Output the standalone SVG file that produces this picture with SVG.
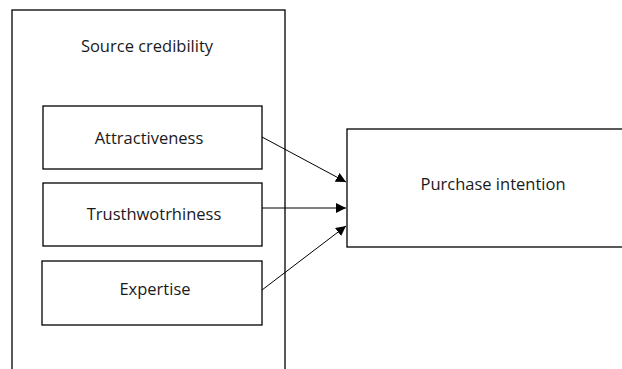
<svg xmlns="http://www.w3.org/2000/svg" width="622" height="369" viewBox="0 0 622 369">
  <style>
    .box { fill: #ffffff; stroke: #000000; stroke-width: 1.3; }
    .label { font-family: "Open Sans", "Noto Sans", sans-serif; font-size: 16.5px; fill: #1a1a1a; text-anchor: middle; }
    .link { stroke: #000000; stroke-width: 1; fill: none; marker-end: url(#head); }
  </style>
  <defs>
    <marker id="head" viewBox="0 0 10 10" refX="10" refY="5" markerWidth="10" markerHeight="10" markerUnits="userSpaceOnUse" orient="auto">
      <path d="M0,0 L10,5 L0,10 Z" fill="#000000"/>
    </marker>
  </defs>
  <rect width="622" height="369" fill="#ffffff"/>

  <g id="source-credibility">
    <rect class="box" x="12" y="10" width="273" height="380"/>
    <text class="label" x="147" y="52">Source credibility</text>
  </g>

  <g id="attractiveness">
    <rect class="box" x="43" y="106" width="219" height="63"/>
    <text class="label" x="149" y="144">Attractiveness</text>
  </g>

  <g id="trustworthiness">
    <rect class="box" x="43" y="183" width="219" height="63"/>
    <text class="label" x="154" y="220">Trusthwotrhiness</text>
  </g>

  <g id="expertise">
    <rect class="box" x="42" y="261" width="220" height="64"/>
    <text class="label" x="155" y="295">Expertise</text>
  </g>

  <g id="purchase-intention">
    <rect class="box" x="347" y="129" width="290" height="118"/>
    <text class="label" x="493" y="190">Purchase intention</text>
  </g>

  <g id="connectors">
    <line class="link" x1="262" y1="137" x2="346" y2="182"/>
    <line class="link" x1="262" y1="208" x2="346" y2="208"/>
    <line class="link" x1="262" y1="290" x2="346" y2="226"/>
  </g>
</svg>
